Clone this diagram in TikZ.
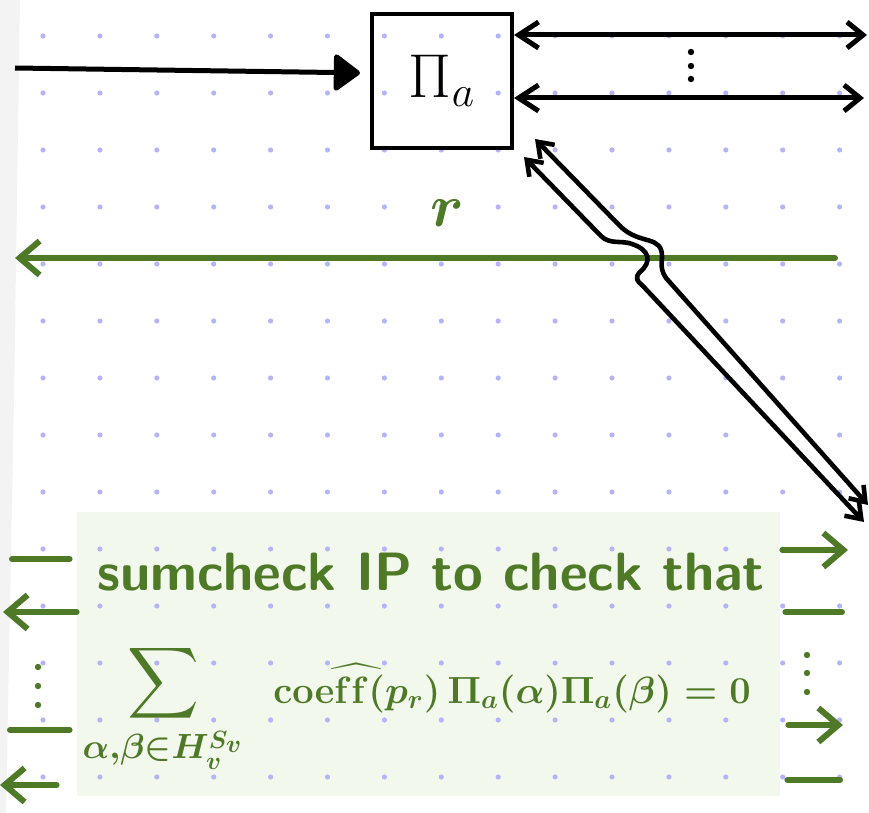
\RequirePackage{fix-cm}
\documentclass[tikz,border=0pt]{standalone}
\usepackage{amsmath}
\usepackage{xcolor}
\usepackage{tikz}
\usetikzlibrary{arrows.meta, positioning, calc}
\definecolor{inkGreen}{HTML}{4E7A27}
\definecolor{dotBlue}{HTML}{B4B4FA}
\definecolor{panelGreen}{HTML}{F3F8ED}
\definecolor{edgeGray}{HTML}{F3F3F3}
\tikzset{
    pi_box/.style={
        rectangle, draw=black, line width=2pt,
        minimum width=70pt, minimum height=67pt, inner sep=0pt,
        font=\fontsize{31}{33}\selectfont
    },
    panel_green/.style={
        rectangle, fill=panelGreen, inner sep=0pt,
        minimum width=351.5pt, minimum height=142pt
    },
    in_arrow/.style={
        -{Triangle[round, length=14pt, width=20pt]}, line width=2.5pt, draw=black
    },
    ink_both/.style={
        {Straight Barb[length=10pt, width=13pt]}-{Straight Barb[length=8pt, width=13pt]},
        line width=2.5pt, draw=black, line cap=round, line join=round
    },
    ink_dbl/.style={
        {Straight Barb[length=7pt, width=10pt]}-{Straight Barb[length=7pt, width=10pt]},
        line width=2.3pt, draw=black, line cap=round, line join=round
    },
    green_arrow/.style={
        -{Straight Barb[length=10pt, width=17pt]},
        line width=3pt, draw=inkGreen, line cap=round, line join=round
    },
    green_dash/.style={
        line width=3pt, draw=inkGreen, line cap=round
    },
    lbl_green/.style={
        inner sep=0pt, text=inkGreen, font=\sffamily\bfseries\fontsize{27}{30}\selectfont
    },
    math_green/.style={
        inner sep=0pt, text=inkGreen, font=\fontsize{19}{24}\selectfont\boldmath
    },
    sum_green/.style={
        inner sep=0pt, text=inkGreen, font=\fontsize{25}{30}\selectfont\boldmath
    },
    ink_dot/.style={radius=1.6pt}
}

\begin{document}
\begin{tikzpicture}[x=0.5pt, y=-0.5pt, >=Stealth]
    \useasboundingbox (0,0) rectangle (869,813);

    % Page edge and note panel
    \fill[edgeGray] (0,0) -- (20,0) -- (14,400) -- (6,813) -- (0,813) -- cycle;
    \node[panel_green] (panel) at (428.5,654) {};

    % Dotted paper
    \foreach \i in {0,...,14}
        \foreach \j in {0,...,13}
            \fill[dotBlue] ({43+56.9*\i},{36+57*\j}) circle (1.3pt);

    % Top: the Pi_a box and its wires
    \node[pi_box] (pia) at (442,81) {$\Pi_a$};
    \coordinate (in_start) at (15,68);
    \coordinate (out_top) at (867,35);
    \coordinate (out_bot) at (864,98);
    \draw[in_arrow, shorten >=5pt] (in_start) -- ([yshift=4pt]pia.west);
    \draw[ink_both] (pia.east |- out_top) -- (out_top);
    \draw[ink_both] (pia.east |- out_bot) -- (out_bot);
    \foreach \y in {52,66,79}
        \fill[black, ink_dot] (691,\y) circle;

    % Challenge r going back to the left
    \coordinate (r_start) at (835,258);
    \coordinate (r_end) at (15,258);
    \draw[green_arrow] (r_start) -- node[pos=0.473, above=14pt, inner sep=0pt, text=inkGreen,
        font=\fontsize{30}{32}\selectfont\boldmath] (r_lbl) {$r$} (r_end);

    % Double wire from Pi_a down into the sumcheck (hops over r)
    \coordinate (dbl_a) at ($(pia.south east)+(21,-11)$);
    \coordinate (dbl_b) at ($(pia.south east)+(10,7)$);
    \coordinate (dbl_a_end) at (868,505);
    \coordinate (dbl_b_end) at (864,522);
    \draw[ink_dbl] (dbl_a) -- (620,226) .. controls (640,246) and (663,234) .. (662,258)
        .. controls (661,268) and (662,272) .. (666,278) -- (dbl_a_end);
    \draw[ink_dbl] (dbl_b) -- (601,236) .. controls (610,245) and (622,240) .. (632,244)
        .. controls (650,250) and (652,262) .. (640,272) .. controls (634,278) and (638,282) .. (642,285)
        -- (dbl_b_end);

    % Sumcheck panel text
    \node[lbl_green, anchor=base] (sc_text) at (431,590) {sumcheck IP to check that};
    \node[sum_green, anchor=base] (sc_sum) at (163,696)
        {$\displaystyle\sum\limits_{\alpha,\beta\in H_v^{S_v}}$};
    \node[math_green, anchor=base west] (sc_eq) at (273,703)
        {$\widehat{\mathrm{coef{}f}(p_r)}\,\Pi_a(\alpha)\Pi_a(\beta)=0$};

    % Left side wires of the panel
    \coordinate (l1) at (12,559);
    \coordinate (l2) at (3,612);
    \coordinate (l3) at (10,730);
    \coordinate (l4) at (0,785);
    \draw[green_dash, shorten >=3.5pt] (l1) -- (l1 -| panel.west);
    \draw[green_arrow] (panel.west |- l2) -- (l2);
    \foreach \y in {667,686,705}
        \fill[inkGreen, ink_dot] (38,\y) circle;
    \draw[green_dash, shorten >=3.5pt] (l3) -- (l3 -| panel.west);
    \draw[green_arrow, shorten <=10pt] (panel.west |- l4) -- (l4);

    % Right side wires of the panel
    \coordinate (r1) at (848,550);
    \coordinate (r2) at (842,612);
    \coordinate (r3) at (843,725);
    \coordinate (r4) at (840,780);
    \draw[green_arrow, shorten <=1pt] (panel.east |- r1) -- (r1);
    \draw[green_dash, shorten <=2.5pt] (panel.east |- r2) -- (r2);
    \foreach \y in {655,673,692}
        \fill[inkGreen, ink_dot] (807,\y) circle;
    \draw[green_arrow, shorten <=4pt] (panel.east |- r3) -- (r3);
    \draw[green_dash, shorten <=3.5pt] (panel.east |- r4) -- (r4);
\end{tikzpicture}
\end{document}
